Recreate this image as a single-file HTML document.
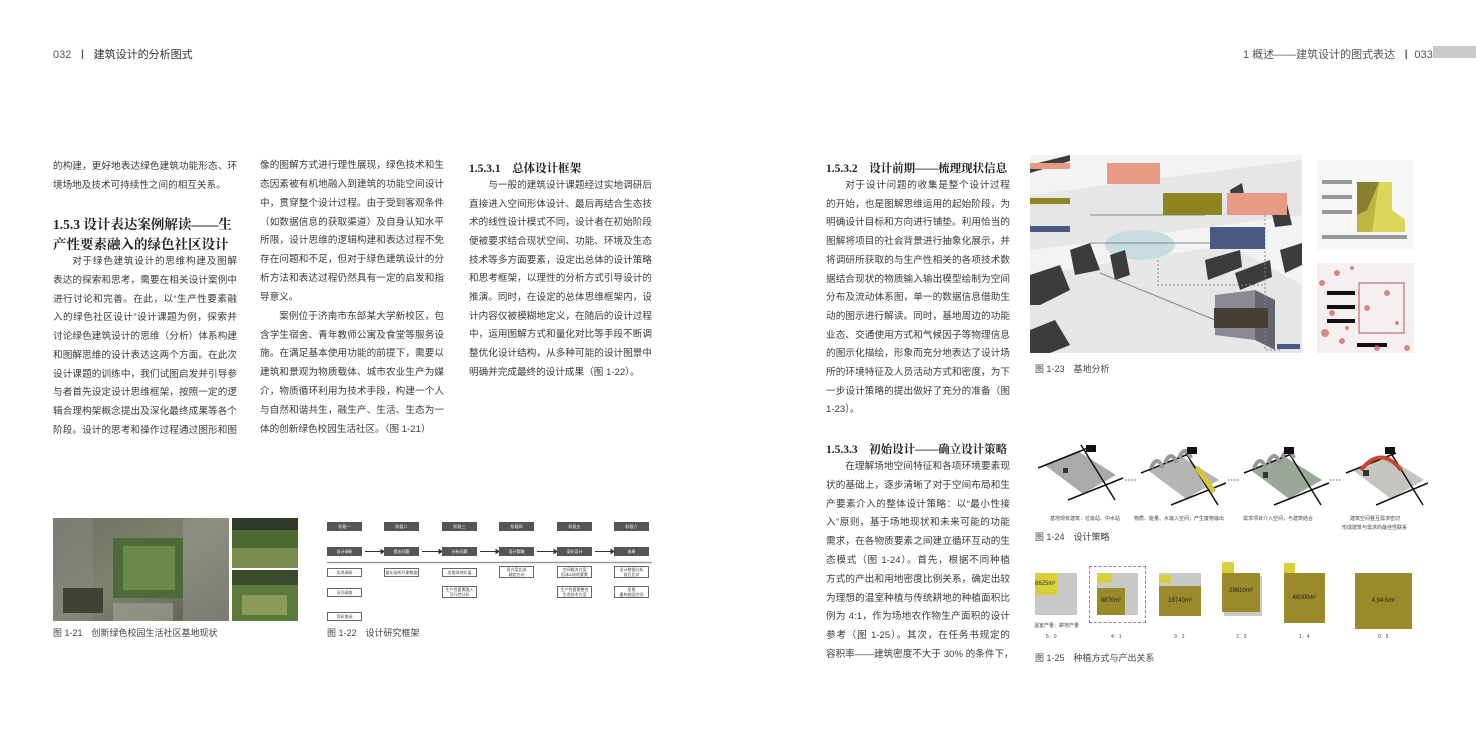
<!DOCTYPE html>
<html><head><meta charset="utf-8">
<style>
*{margin:0;padding:0;box-sizing:border-box}
body{width:1476px;height:738px;background:#fff;position:relative;overflow:hidden;font-family:"Liberation Sans","Noto Sans CJK SC",sans-serif;color:#333}
.a{position:absolute}
.col{position:absolute;font-size:9.6px;line-height:18.75px;color:#3a3a3a}
.col div{text-align:justify;text-align-last:justify;white-space:nowrap;overflow:visible}
.col div.n{text-align-last:left}
.col div.i{padding-left:2em}
.h1{position:absolute;font-family:"Liberation Serif","Noto Serif CJK SC",serif;font-size:13.5px;font-weight:bold;color:#222;line-height:20px;white-space:nowrap}
.h2{position:absolute;font-family:"Liberation Serif","Noto Serif CJK SC",serif;font-size:11.5px;font-weight:bold;color:#222}
.cap{position:absolute;font-size:9px;color:#444}
.fb{position:absolute;font-size:4px;color:#fff;text-align:center;line-height:9px}
.dk{background:#555;width:35px;height:9px}
.wb{position:absolute;border:1px solid #666;background:#fff;font-size:4px;color:#444;text-align:center;width:35px}
.lab{position:absolute;font-size:5px;color:#444}
</style></head><body>

<div class="a" style="left:53px;top:46px;font-size:11px;color:#555">032 &nbsp;<b style="font-size:10px">丨</b>&nbsp; <span style="color:#333">建筑设计的分析图式</span></div>
<div class="a" style="left:1243px;top:46px;font-size:11px;color:#555">1 概述——建筑设计的图式表达 &nbsp;<b style="font-size:10px">丨</b>&nbsp;033</div>
<div class="a" style="left:1433px;top:46px;width:43px;height:12px;background:#c9c9c9"></div>

<!-- column 1 -->
<div class="col" style="left:53px;top:158px;width:184px">
<div>的构建，更好地表达绿色建筑功能形态、环</div>
<div class="n">境场地及技术可持续性之间的相互关系。</div>
</div>
<div class="h1" style="left:53px;top:215px">1.5.3 设计表达案例解读——生</div>
<div class="h1" style="left:53px;top:235px">产性要素融入的绿色社区设计</div>
<div class="col" style="left:53px;top:253px;width:184px">
<div class="i">对于绿色建筑设计的思维构建及图解</div>
<div>表达的探索和思考，需要在相关设计案例中</div>
<div>进行讨论和完善。在此，以“生产性要素融</div>
<div>入的绿色社区设计”设计课题为例，探索并</div>
<div>讨论绿色建筑设计的思维（分析）体系构建</div>
<div>和图解思维的设计表达这两个方面。在此次</div>
<div>设计课题的训练中，我们试图启发并引导参</div>
<div>与者首先设定设计思维框架，按照一定的逻</div>
<div>辑合理构架概念提出及深化最终成果等各个</div>
<div>阶段。设计的思考和操作过程通过图形和图</div>
</div>

<!-- column 2 -->
<div class="col" style="left:260px;top:157px;width:184px;line-height:18.85px">
<div>像的图解方式进行理性展现，绿色技术和生</div>
<div>态因素被有机地融入到建筑的功能空间设计</div>
<div>中，贯穿整个设计过程。由于受到客观条件</div>
<div>（如数据信息的获取渠道）及自身认知水平</div>
<div>所限，设计思维的逻辑构建和表达过程不免</div>
<div>存在问题和不足，但对于绿色建筑设计的分</div>
<div>析方法和表达过程仍然具有一定的启发和指</div>
<div class="n">导意义。</div>
<div class="i">案例位于济南市东部某大学新校区，包</div>
<div>含学生宿舍、青年教师公寓及食堂等服务设</div>
<div>施。在满足基本使用功能的前提下，需要以</div>
<div>建筑和景观为物质载体、城市农业生产为媒</div>
<div>介，物质循环利用为技术手段，构建一个人</div>
<div>与自然和谐共生，融生产、生活、生态为一</div>
<div class="n">体的创新绿色校园生活社区。（图 1-21）</div>
</div>

<!-- column 3 -->
<div class="h2" style="left:469px;top:160px">1.5.3.1　总体设计框架</div>
<div class="col" style="left:469px;top:177px;width:183px;line-height:18.65px">
<div class="i">与一般的建筑设计课题经过实地调研后</div>
<div>直接进入空间形体设计、最后再结合生态技</div>
<div>术的线性设计模式不同，设计者在初始阶段</div>
<div>便被要求结合现状空间、功能、环境及生态</div>
<div>技术等多方面要素，设定出总体的设计策略</div>
<div>和思考框架，以理性的分析方式引导设计的</div>
<div>推演。同时，在设定的总体思维框架内，设</div>
<div>计内容仅被模糊地定义，在随后的设计过程</div>
<div>中，运用图解方式和量化对比等手段不断调</div>
<div>整优化设计结构，从多种可能的设计图景中</div>
<div class="n">明确并完成最终的设计成果（图 1-22）。</div>
</div>

<!-- column 4 -->
<div class="h2" style="left:826px;top:160px">1.5.3.2　设计前期——梳理现状信息</div>
<div class="col" style="left:826px;top:177px;width:184px;line-height:18.7px">
<div class="i">对于设计问题的收集是整个设计过程</div>
<div>的开始，也是图解思维运用的起始阶段，为</div>
<div>明确设计目标和方向进行铺垫。利用恰当的</div>
<div>图解将项目的社会背景进行抽象化展示，并</div>
<div>将调研所获取的与生产性相关的各项技术数</div>
<div>据结合现状的物质输入输出模型绘制为空间</div>
<div>分布及流动体系图，单一的数据信息借助生</div>
<div>动的图示进行解读。同时，基地周边的功能</div>
<div>业态、交通使用方式和气候因子等物理信息</div>
<div>的图示化描绘，形象而充分地表达了设计场</div>
<div>所的环境特征及人员活动方式和密度，为下</div>
<div>一步设计策略的提出做好了充分的准备（图</div>
<div class="n">1-23）。</div>
</div>
<div class="h2" style="left:826px;top:441px">1.5.3.3　初始设计——确立设计策略</div>
<div class="col" style="left:826px;top:458px;width:184px;line-height:18.8px">
<div class="i">在理解场地空间特征和各项环境要素现</div>
<div>状的基础上，逐步清晰了对于空间布局和生</div>
<div>产要素介入的整体设计策略：以“最小性接</div>
<div>入”原则，基于场地现状和未来可能的功能</div>
<div>需求，在各物质要素之间建立循环互动的生</div>
<div>态模式（图 1-24）。首先，根据不同种植</div>
<div>方式的产出和用地密度比例关系，确定出较</div>
<div>为理想的温室种植与传统耕地的种植面积比</div>
<div>例为 4:1，作为场地农作物生产面积的设计</div>
<div>参考（图 1-25）。其次，在任务书规定的</div>
<div>容积率——建筑密度不大于 30% 的条件下，</div>
</div>

<!-- Fig 1-21 -->
<svg class="a" style="left:53px;top:518px" width="176" height="103">
<defs><linearGradient id="g1" x1="0" y1="0" x2="1" y2="1"><stop offset="0" stop-color="#6c7060"/><stop offset="0.5" stop-color="#7f836e"/><stop offset="1" stop-color="#5a5e50"/></linearGradient></defs>
<rect width="176" height="103" fill="url(#g1)"/>
<rect x="0" y="0" width="40" height="103" fill="#8a8a86" opacity=".5"/>
<rect x="60" y="20" width="70" height="60" fill="#4f6a3a"/>
<rect x="70" y="28" width="52" height="44" fill="#6a8a4a"/>
<rect x="130" y="0" width="46" height="103" fill="#9a9a92" opacity=".5"/>
<rect x="10" y="70" width="40" height="25" fill="#3e4238"/>
<rect x="60" y="85" width="60" height="18" fill="#a3a59a" opacity=".6"/>
</svg>
<svg class="a" style="left:232px;top:518px" width="66" height="50"><rect width="66" height="50" fill="#4c6a34"/><rect y="30" width="66" height="20" fill="#7a8c4e"/><rect x="0" y="0" width="66" height="12" fill="#2f3a26"/></svg>
<svg class="a" style="left:232px;top:570px" width="66" height="51"><rect width="66" height="51" fill="#5c7a3c"/><rect y="0" width="66" height="15" fill="#3c4a2c"/><rect x="10" y="25" width="45" height="20" fill="#8c9a5a"/></svg>
<div class="cap" style="left:53px;top:626px">图 1-21　创新绿色校园生活社区基地现状</div>

<!-- Fig 1-22 -->
<div class="a" style="left:327px;top:520px;width:325px;height:100px">
 <div class="fb dk" style="left:0;top:2px">阶段一</div>
 <div class="fb dk" style="left:57px;top:2px">阶段二</div>
 <div class="fb dk" style="left:115px;top:2px">阶段三</div>
 <div class="fb dk" style="left:172px;top:2px">阶段四</div>
 <div class="fb dk" style="left:230px;top:2px">阶段五</div>
 <div class="fb dk" style="left:287px;top:2px">阶段六</div>
 <div class="fb dk" style="left:0;top:27px">设计调研</div>
 <div class="fb dk" style="left:57px;top:27px">提出问题</div>
 <div class="fb dk" style="left:115px;top:27px">分析问题</div>
 <div class="fb dk" style="left:172px;top:27px">设计策略</div>
 <div class="fb dk" style="left:230px;top:27px">深化设计</div>
 <div class="fb dk" style="left:287px;top:27px">成果</div>
 <svg class="a" style="left:0;top:0" width="325" height="100">
  <g stroke="#333" stroke-width="1" fill="#333">
   <line x1="38" y1="31.5" x2="54" y2="31.5"/><polygon points="54,29.5 57,31.5 54,33.5"/>
   <line x1="95" y1="31.5" x2="112" y2="31.5"/><polygon points="112,29.5 115,31.5 112,33.5"/>
   <line x1="153" y1="31.5" x2="169" y2="31.5"/><polygon points="169,29.5 172,31.5 169,33.5"/>
   <line x1="210" y1="31.5" x2="227" y2="31.5"/><polygon points="227,29.5 230,31.5 227,33.5"/>
   <line x1="268" y1="31.5" x2="284" y2="31.5"/><polygon points="284,29.5 287,31.5 284,33.5"/>
  </g>
  <line x1="0" y1="42.5" x2="325" y2="42.5" stroke="#999" stroke-width="1.5"/>
 </svg>
 <div class="wb" style="left:0;top:48px;height:9px;line-height:7px">实地调研</div>
 <div class="wb" style="left:0;top:68px;height:9px;line-height:7px">访问调查</div>
 <div class="wb" style="left:0;top:92px;height:9px;line-height:7px">资料查阅</div>
 <div class="wb" style="left:57px;top:48px;height:9px;line-height:7px">量化场所代谢数据</div>
 <div class="wb" style="left:115px;top:48px;height:9px;line-height:7px">发掘场地价值</div>
 <div class="wb" style="left:115px;top:66px;height:12px;line-height:5px">生产性要素融入<br>可行性分析</div>
 <div class="wb" style="left:172px;top:46px;height:12px;line-height:5px">多方案比选<br>确定方向</div>
 <div class="wb" style="left:230px;top:46px;height:12px;line-height:5px">空间解决方案<br>形体&amp;场地要素</div>
 <div class="wb" style="left:230px;top:66px;height:12px;line-height:5px">生产性要素整合<br>生态技术方案</div>
 <div class="wb" style="left:287px;top:46px;height:12px;line-height:5px">设计数据分析<br>前后比对</div>
 <div class="wb" style="left:287px;top:66px;height:12px;line-height:5px">愿景<br>重构校园空间</div>
</div>
<div class="cap" style="left:327px;top:626px">图 1-22　设计研究框架</div>

<!-- Fig 1-23 -->
<svg class="a" style="left:1030px;top:155px" width="272" height="198">
 <rect width="272" height="198" fill="#f3f3f3"/>
 <g fill="#e6e6e6"><polygon points="0,40 272,5 272,60 0,95"/><polygon points="0,120 200,90 272,130 272,198 0,198"/></g>
 <ellipse cx="110" cy="90" rx="35" ry="15" fill="#c9dde0"/>
 <g fill="#3c3c3c">
  <polygon points="0,120 30,110 40,135 10,150 0,150"/>
  <polygon points="40,95 60,88 70,115 45,120"/>
  <polygon points="80,100 95,95 100,120 85,125"/>
  <polygon points="175,105 210,95 212,112 178,125"/>
  <polygon points="205,118 240,105 242,122 210,135"/>
  <polygon points="240,50 255,40 262,70 245,72"/>
  <polygon points="200,35 212,28 215,45 203,50"/>
  <polygon points="0,175 25,165 40,190 20,198 0,198"/>
  <polygon points="0,10 40,0 40,6 0,18"/>
  <polygon points="250,95 272,88 272,110 255,118"/>
 </g>
 <polygon points="185,140 225,135 225,185 185,180" fill="#8a8a96"/>
 <polygon points="225,135 245,145 245,195 225,185" fill="#666670"/>
 <g stroke="#888" stroke-width="1" fill="none"><line x1="60" y1="60" x2="175" y2="60"/><line x1="60" y1="88" x2="210" y2="88"/><line x1="70" y1="118" x2="185" y2="165"/><polyline points="235,60 235,195 250,195" stroke-dasharray="2,2"/><polyline points="128,105 128,130 235,130" stroke-dasharray="2,2"/></g>
 <rect x="0" y="8" width="40" height="6" fill="#e99a85"/>
 <rect x="77" y="8" width="53" height="21" fill="#e99a85"/>
 <rect x="0" y="43" width="40" height="6" fill="#8f8520"/>
 <rect x="133" y="38" width="59" height="22" fill="#8f8520"/>
 <rect x="197" y="38" width="60" height="22" fill="#e99a85"/>
 <rect x="0" y="71" width="40" height="6" fill="#4a5a80"/>
 <rect x="180" y="72" width="55" height="22" fill="#4a5a80"/>
 <rect x="184" y="153" width="54" height="20" fill="#4a3f35"/>
 <rect x="247" y="189" width="23" height="5" fill="#4a5a80"/>
</svg>
<svg class="a" style="left:1317px;top:160px" width="97" height="90">
 <rect width="97" height="90" fill="#f7f7f7"/>
 <g fill="#999"><rect x="5" y="20" width="30" height="4"/><rect x="5" y="35" width="30" height="4"/><rect x="5" y="50" width="30" height="4"/><rect x="5" y="75" width="85" height="4"/></g>
 <polygon points="40,22 75,22 75,50 88,60 88,72 40,72" fill="#bdb640"/>
 <polygon points="40,22 62,22 50,50 40,55" fill="#8a8130"/>
 <polygon points="62,22 75,22 75,50 88,60 88,72 55,72" fill="#d9d65a"/>
</svg>
<svg class="a" style="left:1317px;top:263px" width="97" height="90">
 <rect width="97" height="90" fill="#f4f0ef"/>
 <g fill="#111"><rect x="10" y="28" width="28" height="4"/><rect x="10" y="42" width="28" height="4"/><rect x="10" y="56" width="28" height="4"/><rect x="40" y="80" width="30" height="4"/></g>
 <rect x="42" y="20" width="45" height="50" fill="none" stroke="#b55" stroke-width="1"/>
 <g fill="#c96050" opacity=".7"><circle cx="5" cy="20" r="3"/><circle cx="20" cy="10" r="3"/><circle cx="35" cy="5" r="2"/><circle cx="8" cy="70" r="4"/><circle cx="25" cy="78" r="3"/><circle cx="50" cy="45" r="3"/><circle cx="70" cy="30" r="3"/><circle cx="80" cy="60" r="2"/><circle cx="15" cy="50" r="3"/><circle cx="60" cy="85" r="3"/><circle cx="90" cy="85" r="3"/><circle cx="30" cy="65" r="2"/></g>
</svg>
<div class="cap" style="left:1035px;top:362px">图 1-23　基地分析</div>

<!-- Fig 1-24 -->
<svg class="a" style="left:1033px;top:440px" width="395" height="80">
 <g>
  <polygon points="10,25 45,10 85,35 50,55" fill="#aaa" stroke="#fff" stroke-width="2"/>
  <polygon points="113,30 148,15 188,40 153,60" fill="#b5b5b5" stroke="#fff" stroke-width="2"/>
  <polygon points="216,30 251,15 291,40 256,60" fill="#9aa898" stroke="#fff" stroke-width="2"/>
  <polygon points="318,30 353,15 393,40 358,60" fill="#c5c5c0" stroke="#fff" stroke-width="2"/>
 </g>
 <g stroke="#111" stroke-width="1.5">
  <line x1="5" y1="28" x2="55" y2="8"/><line x1="35" y1="60" x2="90" y2="38"/><line x1="48" y1="5" x2="82" y2="60"/>
  <line x1="108" y1="33" x2="158" y2="13"/><line x1="138" y1="65" x2="193" y2="43"/><line x1="151" y1="10" x2="185" y2="65"/>
  <line x1="211" y1="33" x2="261" y2="13"/><line x1="241" y1="65" x2="296" y2="43"/><line x1="254" y1="10" x2="288" y2="65"/>
  <line x1="313" y1="33" x2="363" y2="13"/><line x1="343" y1="65" x2="395" y2="43"/><line x1="356" y1="10" x2="390" y2="65"/>
 </g>
 <rect x="170" y="25" width="5" height="30" fill="#d8c630" transform="rotate(-35 172 40)"/>
 <g fill="none" stroke="#999" stroke-width="4"><path d="M118,28 q6,-14 12,0"/><path d="M132,23 q6,-14 12,0"/><path d="M146,18 q6,-14 12,0"/><path d="M221,28 q6,-14 12,0"/><path d="M235,23 q6,-14 12,0"/><path d="M249,18 q6,-14 12,0"/></g>
 <path d="M328,30 q20,-25 40,0" fill="none" stroke="#c43" stroke-width="4"/>
 <rect x="30" y="28" width="5" height="5" fill="#333"/><rect x="230" y="32" width="5" height="6" fill="#333"/><rect x="330" y="30" width="6" height="6" fill="#333"/>
 <g fill="#111"><rect x="53" y="5" width="10" height="7"/><rect x="154" y="7" width="10" height="7"/><rect x="251" y="7" width="10" height="7"/><rect x="352" y="7" width="10" height="7"/></g>
 <g stroke="#555" stroke-dasharray="1.5,1.5"><line x1="92" y1="40" x2="103" y2="40"/><line x1="195" y1="40" x2="206" y2="40"/><line x1="297" y1="40" x2="308" y2="40"/></g>
</svg>
<div class="lab" style="left:1050px;top:515px">基地现有建筑：垃圾站、中水站</div>
<div class="lab" style="left:1134px;top:515px">物质、能量、水输入空间，产生废物输出</div>
<div class="lab" style="left:1243px;top:515px">需求项目介入空间，与建筑结合</div>
<div class="lab" style="left:1350px;top:515px">建筑空间整互需求密切</div>
<div class="lab" style="left:1342px;top:524px">形成建筑与需求的最佳性联系</div>
<div class="cap" style="left:1035px;top:530px">图 1-24　设计策略</div>

<!-- Fig 1-25 -->
<div class="a" style="left:1035px;top:573px;width:42px;height:42px;background:#c8c8c8"></div>
<div class="a" style="left:1035px;top:573px;width:22px;height:22px;background:#d8cf3a;font-size:6px;line-height:22px">6625m²</div>
<div class="a" style="left:1089px;top:566px;width:57px;height:57px;border:1px dashed #c07080"></div>
<div class="a" style="left:1097px;top:573px;width:41px;height:42px;background:#c8c8c8"></div>
<div class="a" style="left:1097px;top:573px;width:15px;height:10px;background:#d8cf3a"></div>
<div class="a" style="left:1097px;top:588px;width:28px;height:27px;background:#9a8a2a;font-size:6px;line-height:27px;text-align:center;color:#222">9870m²</div>
<div class="a" style="left:1159px;top:573px;width:42px;height:43px;background:#c8c8c8"></div>
<div class="a" style="left:1159px;top:575px;width:12px;height:8px;background:#d8cf3a"></div>
<div class="a" style="left:1159px;top:586px;width:42px;height:30px;background:#9a8a2a;font-size:6px;line-height:30px;text-align:center;color:#222">19740m²</div>
<div class="a" style="left:1224px;top:576px;width:38px;height:40px;background:#c8c8c8"></div>
<div class="a" style="left:1222px;top:562px;width:12px;height:11px;background:#d8cf3a"></div>
<div class="a" style="left:1222px;top:573px;width:38px;height:39px;background:#9a8a2a;font-size:6px;line-height:36px;text-align:center;color:#222">29610m²</div>
<div class="a" style="left:1284px;top:563px;width:11px;height:10px;background:#d8cf3a"></div>
<div class="a" style="left:1284px;top:573px;width:41px;height:50px;background:#9a8a2a;font-size:6px;line-height:50px;text-align:center;color:#222">46000m²</div>
<div class="a" style="left:1355px;top:573px;width:57px;height:56px;background:#9a8a2a;font-size:6px;line-height:56px;text-align:center;color:#222">4.94 hm²</div>
<div class="lab" style="left:1034px;top:622px">温室产量：耕地产量</div>
<div class="lab" style="left:1046px;top:633px">5：0</div>
<div class="lab" style="left:1111px;top:633px">4：1</div>
<div class="lab" style="left:1174px;top:633px">3：2</div>
<div class="lab" style="left:1236px;top:633px">2：3</div>
<div class="lab" style="left:1299px;top:633px">1：4</div>
<div class="lab" style="left:1378px;top:633px">0：5</div>
<div class="cap" style="left:1035px;top:651px">图 1-25　种植方式与产出关系</div>
</body></html>
